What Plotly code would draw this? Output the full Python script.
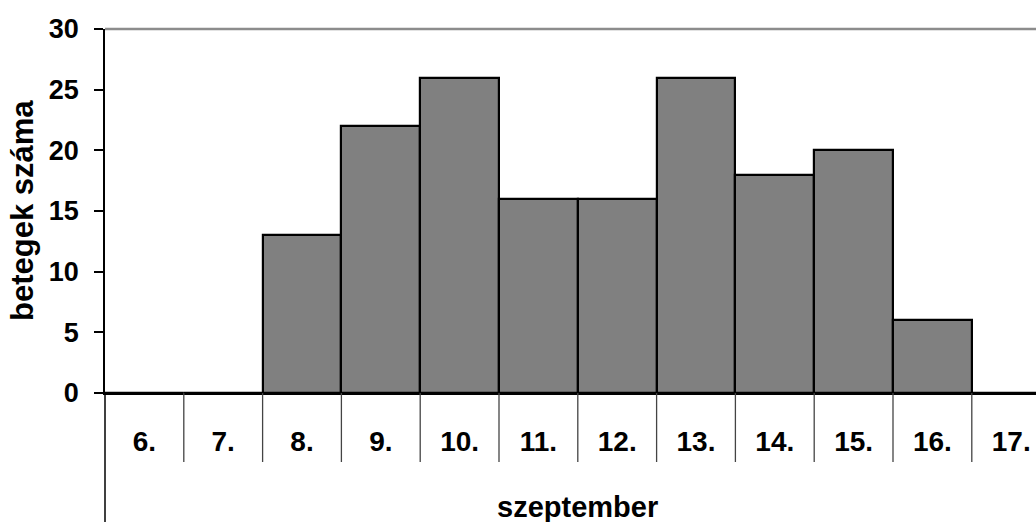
import plotly.graph_objects as go

days = ["6.", "7.", "8.", "9.", "10.", "11.", "12.", "13.", "14.", "15.", "16.", "17."]
patients = [0, 0, 13, 22, 26, 16, 16, 26, 18, 20, 6, 0]
y_ticks = [0, 5, 10, 15, 20, 25, 30]
y_title = "betegek száma"
x_title = "szeptember"

FONT = "Liberation Sans"
W, H = 1036, 522
L, T, B = 105, 29, 129
cat_w = 78.8
plot_w = W - L
x_max = -0.5 + plot_w / cat_w

fig = go.Figure(go.Bar(
    x=list(range(len(days))), y=patients,
    marker=dict(color="#808080", line=dict(color="black", width=2.2)),
    width=1.0,
))

shapes = []
# top plot-area border
shapes.append(dict(type="line", xref="paper", yref="paper", x0=0, x1=1, y0=1, y1=1,
                   layer="above", line=dict(color="#8c8c8c", width=2.5)))
# left axis extension down to bottom (multi-level category axis)
shapes.append(dict(type="line", xref="paper", yref="paper", x0=0, x1=0, y0=0, y1=-B / (H - T - B),
                   line=dict(color="black", width=1.5)))
# category separators
sep_h = (462 - 393) / (H - T - B)
for k in range(len(days) - 1):
    shapes.append(dict(type="line", xref="x", yref="paper", x0=k + 0.5, x1=k + 0.5,
                       y0=0, y1=-sep_h, line=dict(color="#444444", width=1.3)))

annotations = [
    dict(text=f"<b>{y_title}</b>", xref="paper", yref="paper", x=0, y=0.5,
         xshift=-(L - 22), xanchor="center", yanchor="middle", textangle=-90,
         showarrow=False, font=dict(family=FONT, size=31, color="black")),
    dict(text=f"<b>{x_title}</b>", xref="x", yref="paper", x=(len(days) - 1) / 2, y=0,
         yshift=-(507 - 393), xanchor="center", yanchor="middle",
         showarrow=False, font=dict(family=FONT, size=29, color="black")),
]

fig.update_layout(
    width=W, height=H,
    margin=dict(l=L, r=0, t=T, b=B, pad=0),
    paper_bgcolor="white", plot_bgcolor="white",
    showlegend=False, bargap=0,
    shapes=shapes, annotations=annotations,
    xaxis=dict(
        range=[-0.5, x_max], tickmode="array",
        tickvals=list(range(len(days))), ticktext=[f"<b>{d}</b>" for d in days],
        ticks="", showgrid=False, zeroline=False,
        showline=True, linecolor="black", linewidth=2,
        tickfont=dict(family=FONT, size=28, color="black"),
        ticklabelstandoff=22,
    ),
    yaxis=dict(
        range=[0, 30], tickmode="array", tickvals=y_ticks,
        ticktext=[f"<b>{v}</b>" for v in y_ticks],
        ticks="outside", ticklen=9, tickwidth=1.5, tickcolor="black",
        showgrid=False, zeroline=False,
        showline=True, linecolor="black", linewidth=1.5,
        tickfont=dict(family=FONT, size=27, color="black"),
        ticklabelstandoff=10,
    ),
)

fig.write_html("out.html", config={"displayModeBar": False},
               post_script="document.body.style.margin='0';document.body.style.overflow='hidden';")
